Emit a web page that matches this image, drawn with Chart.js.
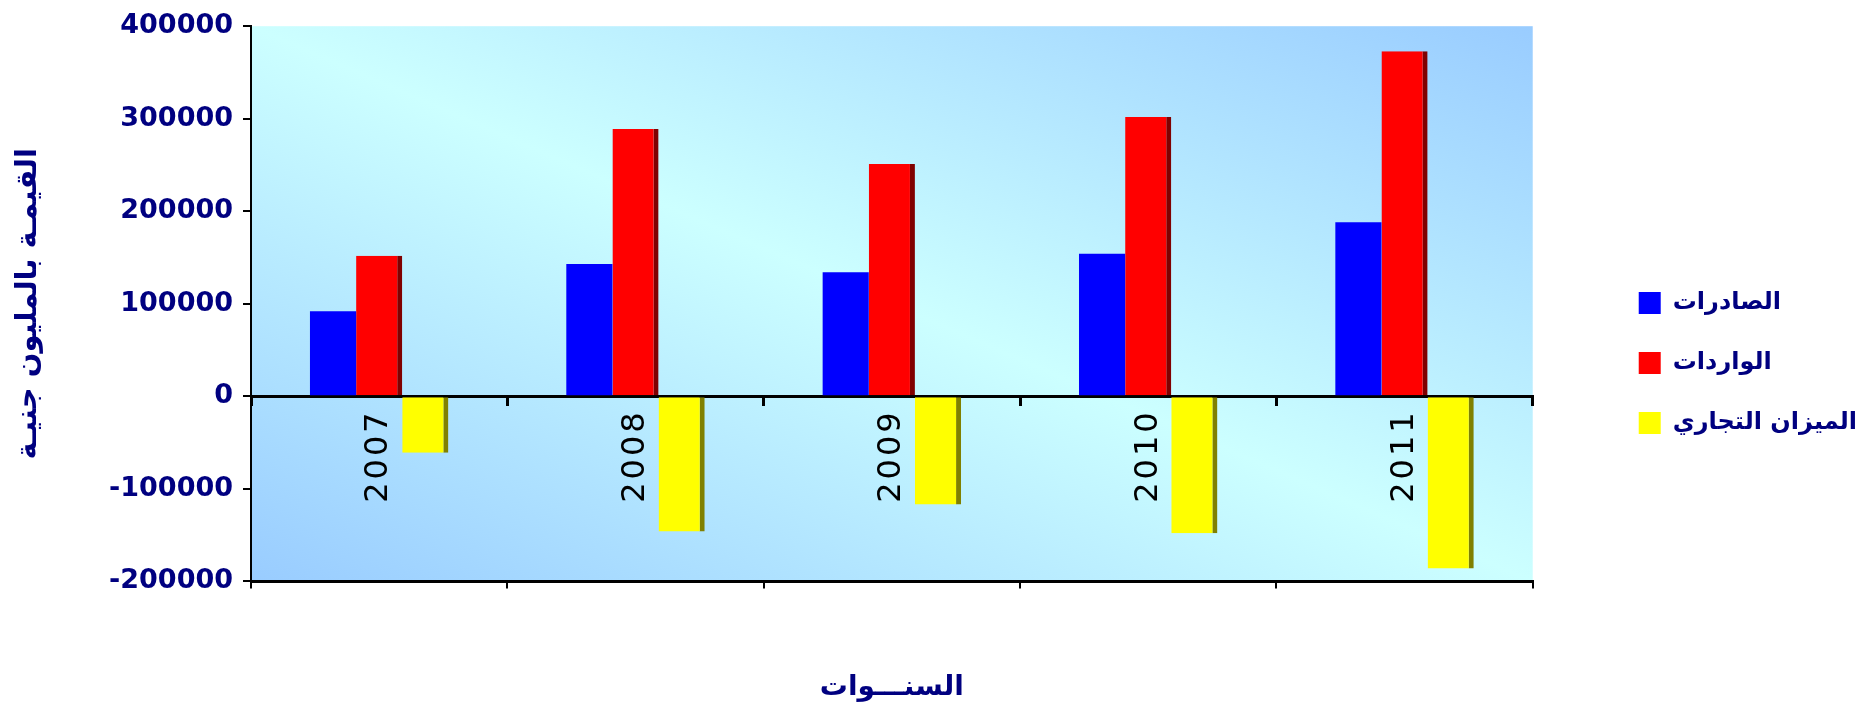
<!DOCTYPE html>
<html lang="ar">
<head>
<meta charset="utf-8">
<title>الصادرات والواردات والميزان التجاري</title>
<script src="https://cdn.jsdelivr.net/npm/chart.js@4.4.0/dist/chart.umd.min.js"></script>
<style>
  html, body { margin: 0; padding: 0; background: #ffffff; }
  canvas { display: block; }
</style>
</head>
<body>
<canvas id="grafico" width="1876" height="706"></canvas>
<script>
// dados
const years = ['2007', '2008', '2009', '2010', '2011'];
const seriesNames = ['الصادرات', 'الواردات', 'الميزان التجاري'];
const exportsValues = [92000, 143000, 134000, 154000, 188000];
const importsValues = [152000, 289000, 251000, 302000, 373000];
const balanceValues = [-61000, -146000, -117000, -148000, -186000];
const yTicks = [-200000, -100000, 0, 100000, 200000, 300000, 400000];

const navy = '#000080';
const arFont = 'DejaVu Sans';

// fundo degradê da area do grafico
const plotBackground = {
  id: 'plotBackground',
  beforeDraw(chart) {
    const ctx = chart.ctx;
    const a = chart.chartArea;
    const w = a.right - a.left, h = a.bottom - a.top;
    const cx = a.left + w / 2, cy = a.top + h / 2;
    const len = Math.sqrt(w * w + h * h);
    const dx = h / len, dy = -w / len; // em direcao ao canto superior direito
    const half = w * h / len;
    const g = ctx.createLinearGradient(cx - dx * half, cy - dy * half, cx + dx * half, cy + dy * half);
    g.addColorStop(0, '#99ccff');
    g.addColorStop(0.5, '#ccffff');
    g.addColorStop(1, '#99ccff');
    ctx.save();
    ctx.fillStyle = g;
    ctx.fillRect(a.left, a.top, w, h);
    ctx.restore();
  },
  // os anos sao desenhados depois das barras, com letras um pouco espaçadas
  afterDatasetsDraw(chart) {
    chart.ctx.letterSpacing = '3px';
  },
  afterDraw(chart) {
    chart.ctx.letterSpacing = '0px';
  }
};

const sideEdge = { top: 0, right: 5, bottom: 0, left: 0 };

new Chart(document.getElementById('grafico'), {
  type: 'bar',
  data: {
    labels: years,
    datasets: [
      { label: seriesNames[0], data: exportsValues, backgroundColor: '#0000ff', borderWidth: 0 },
      { label: seriesNames[1], data: importsValues, backgroundColor: '#ff0000', borderColor: '#800000', borderWidth: sideEdge, borderSkipped: false },
      { label: seriesNames[2], data: balanceValues, backgroundColor: '#ffff00', borderColor: '#808000', borderWidth: sideEdge, borderSkipped: false }
    ]
  },
  options: {
    responsive: false,
    animation: false,
    devicePixelRatio: 1,
    layout: { padding: { top: 20, right: 9, bottom: 0, left: 0 } },
    datasets: {
      bar: { barPercentage: 1.0, categoryPercentage: 0.54 }
    },
    scales: {
      x: {
        position: { y: 0 },
        offset: true,
        grid: { offset: true, drawOnChartArea: false, tickLength: 8, color: '#000', lineWidth: 3 },
        border: { display: true, color: '#000', width: 3 },
        ticks: { z: 1, minRotation: 90, maxRotation: 90, autoSkip: false, padding: 5, color: '#000', font: { family: arFont, size: 32 } },
        afterFit(s) { s.height = 0; }
      },
      xBottom: {
        type: 'category',
        position: 'bottom',
        offset: true,
        grid: { offset: true, drawOnChartArea: false, tickLength: 7, color: '#000', lineWidth: 2 },
        border: { color: '#000', width: 3 },
        ticks: { display: false },
        afterFit(s) { s.height = 75; }
      },
      y: {
        min: yTicks[0],
        max: yTicks[yTicks.length - 1],
        afterBuildTicks(s) { s.ticks = yTicks.map(v => ({ value: v })); },
        ticks: {
          color: navy,
          padding: 10,
          font: { family: arFont, size: 27, weight: 'bold' },
          callback: v => String(v)
        },
        grid: { drawOnChartArea: false, tickLength: 8, color: '#000', lineWidth: 2 },
        border: { color: '#000', width: 2 },
        title: {
          display: true,
          text: 'القيمـة بالمليون جنيـة',
          color: navy,
          font: { family: arFont, size: 29, weight: 'bold' },
          padding: { top: 11, bottom: 0 }
        },
        afterFit(s) { s.width = 251; }
      },
      // espaco vazio entre o grafico e a legenda
      yGap: {
        position: 'right',
        grid: { display: false },
        border: { display: false },
        ticks: { display: false },
        afterFit(s) { s.width = 70; }
      }
    },
    plugins: {
      legend: {
        position: 'right',
        align: 'center',
        labels: {
          boxWidth: 22,
          boxHeight: 22,
          padding: 36,
          color: navy,
          font: { family: arFont, size: 24, weight: 'bold' },
          generateLabels(chart) {
            const items = Chart.defaults.plugins.legend.labels.generateLabels(chart);
            items.forEach(it => { it.lineWidth = 0; it.strokeStyle = it.fillStyle; });
            return items;
          }
        }
      },
      title: {
        display: true,
        position: 'bottom',
        fullSize: false,
        text: 'السنـــوات',
        color: navy,
        font: { family: arFont, size: 28, weight: 'bold' },
        padding: { top: 15, bottom: 1 }
      },
      tooltip: { enabled: false }
    }
  },
  plugins: [plotBackground]
});
</script>
</body>
</html>
